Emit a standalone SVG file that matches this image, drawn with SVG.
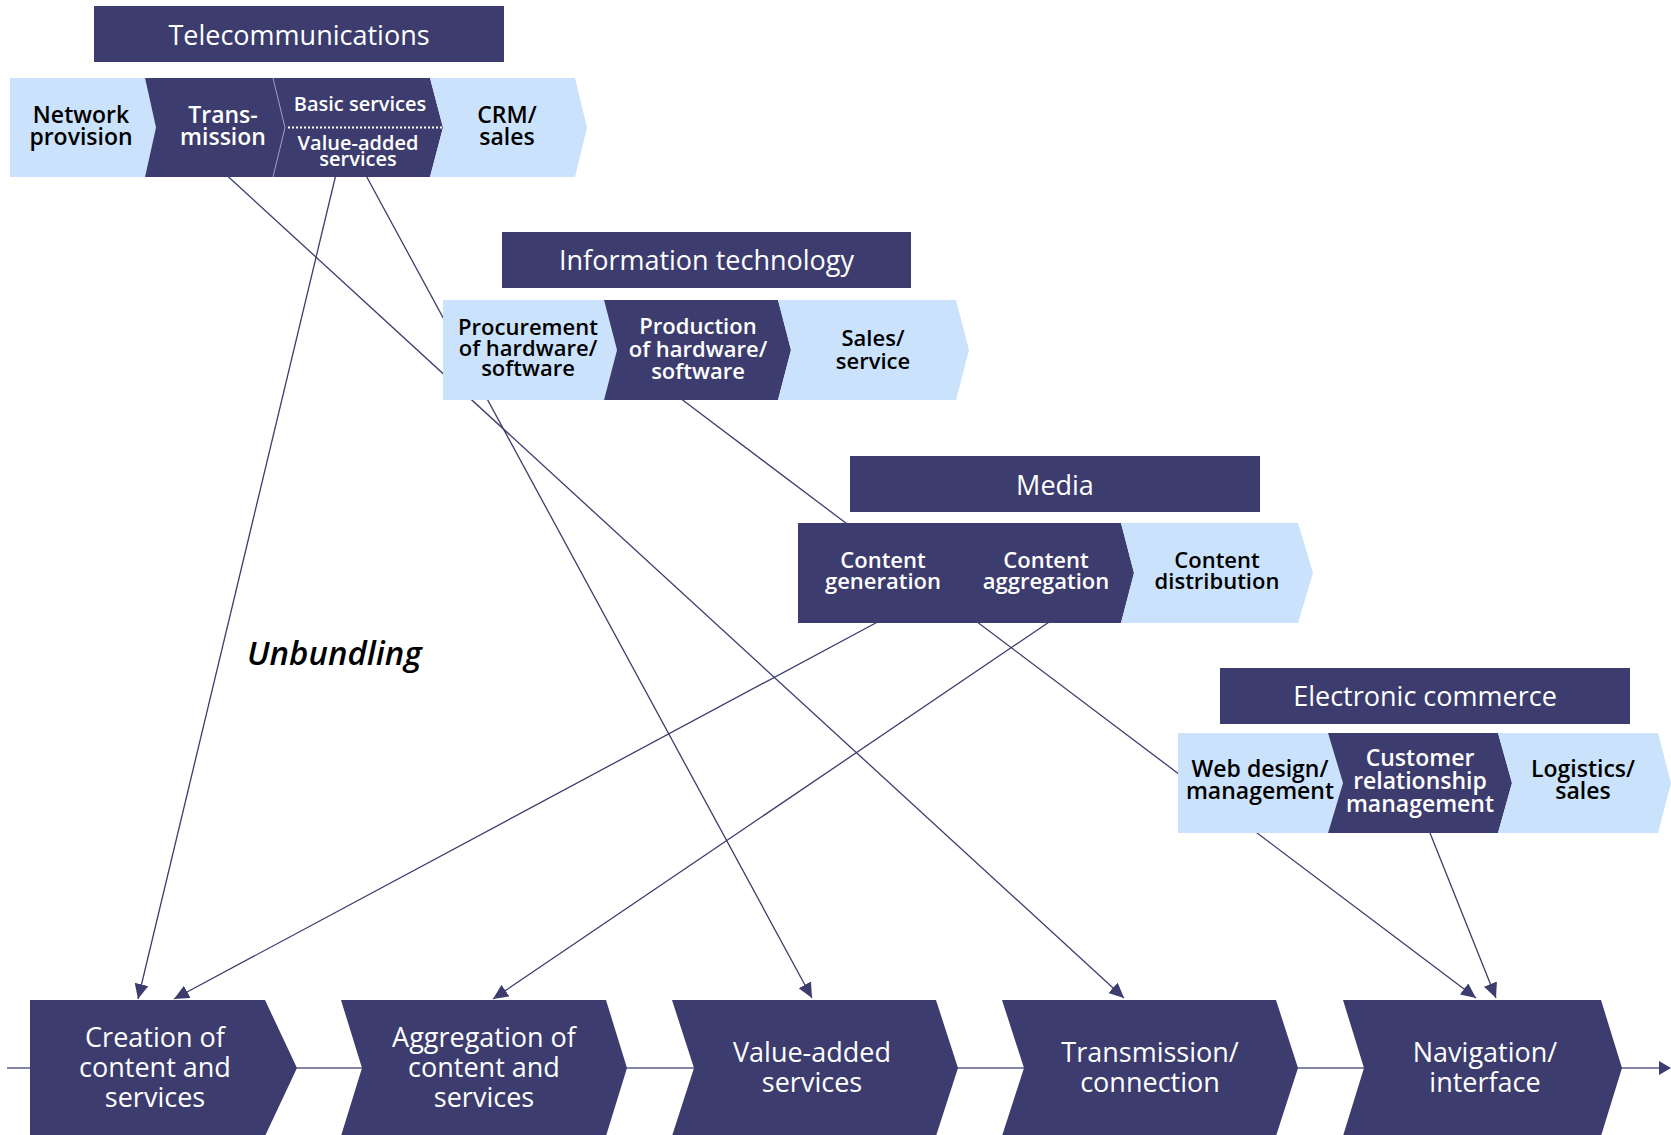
<svg xmlns="http://www.w3.org/2000/svg" width="1671" height="1135" viewBox="0 0 1671 1135">
<defs>
<style>
.dk{fill:#3d3c6e}
.lt{fill:#cae2fb}
.t{font-family:"Open Sans","Liberation Sans",sans-serif;font-weight:600;text-anchor:middle}
.w{fill:#ffffff}
.b{fill:#000000}
.hd{font-size:27px;font-weight:500}
.c23{font-size:23px}
.c22{font-size:22px}
.c20{font-size:20px}
.bt{font-size:27px;font-weight:500}
.con{stroke:#3d3c6e;stroke-width:1.3;fill:none}
</style>
<marker id="ah" markerUnits="userSpaceOnUse" markerWidth="16" markerHeight="14" refX="15" refY="7" orient="auto">
<path d="M0,0 L15,7 L0,14 Z" fill="#3d3c6e"/>
</marker>
</defs>
<rect width="1671" height="1135" fill="#ffffff"/>

<g id="connectors">
<line class="con" x1="221" y1="170" x2="1124" y2="998" marker-end="url(#ah)"/>
<line class="con" x1="337" y1="170" x2="138" y2="999" marker-end="url(#ah)"/>
<line class="con" x1="363" y1="170" x2="812" y2="998" marker-end="url(#ah)"/>
<line class="con" x1="676" y1="395" x2="1476" y2="998" marker-end="url(#ah)"/>
<line class="con" x1="1428" y1="828" x2="1496" y2="998" marker-end="url(#ah)"/>
<line class="con" x1="885" y1="618" x2="174" y2="999" marker-end="url(#ah)"/>
<line class="con" x1="1055" y1="618" x2="493" y2="999" marker-end="url(#ah)"/>
<line x1="7" y1="1068" x2="1660" y2="1068" stroke="#8585aa" stroke-width="2"/>
<polygon points="1659,1061 1671,1068 1659,1075" fill="#3d3c6e"/>
</g>

<g id="telecommunications">
<rect class="dk" x="94" y="6" width="410" height="56"/>
<text class="t w hd" x="299" y="45">Telecommunications</text>
</g>
<g id="network-provision">
<polygon class="lt" points="10,78 145,78 156,127.5 145,177 10,177"/>
<text class="t b c23" x="81" y="123">Network</text>
<text class="t b c23" x="81" y="145">provision</text>
</g>
<g id="transmission-tel">
<polygon class="dk" points="145,78 273,78 285,127.5 273,177 145,177 156,127.5"/>
<text class="t w c23" x="223" y="123">Trans-</text>
<text class="t w c23" x="223" y="145">mission</text>
</g>
<g id="services-tel">
<polygon class="dk" points="273,78 430,78 443,127.5 430,177 273,177 285,127.5"/>
<polyline points="273,78 285,127.5 273,177" fill="none" stroke="#9a9ac0" stroke-width="1"/>
<line x1="288" y1="127.5" x2="448" y2="127.5" stroke="#ffffff" stroke-width="2" stroke-dasharray="2,2"/>
<text class="t w c20" x="360" y="111">Basic services</text>
<text class="t w c20" x="358" y="150">Value-added</text>
<text class="t w c20" x="358" y="166">services</text>
</g>
<g id="crm-sales">
<polygon class="lt" points="430,78 575,78 587,127.5 575,177 430,177 443,127.5"/>
<text class="t b c23" x="507" y="123">CRM/</text>
<text class="t b c23" x="507" y="145">sales</text>
</g>

<g id="information-technology">
<rect class="dk" x="502" y="232" width="409" height="56"/>
<text class="t w hd" x="706.5" y="270">Information technology</text>
</g>
<g id="procurement">
<polygon class="lt" points="443,300 604,300 617,350 604,400 443,400"/>
<text class="t b c22" x="528" y="335">Procurement</text>
<text class="t b c22" x="528" y="356">of hardware/</text>
<text class="t b c22" x="528" y="376">software</text>
</g>
<g id="production">
<polygon class="dk" points="604,300 778,300 791,350 778,400 604,400 617,350"/>
<text class="t w c22" x="698" y="334">Production</text>
<text class="t w c22" x="698" y="357">of hardware/</text>
<text class="t w c22" x="698" y="379">software</text>
</g>
<g id="sales-service">
<polygon class="lt" points="778,300 956,300 969,350 956,400 778,400 791,350"/>
<text class="t b c22" x="873" y="346">Sales/</text>
<text class="t b c22" x="873" y="369">service</text>
</g>

<g id="media">
<rect class="dk" x="850" y="456" width="410" height="56"/>
<text class="t w hd" x="1055" y="495">Media</text>
</g>
<g id="content-generation">
<rect class="dk" x="798" y="523" width="152" height="100"/>
<text class="t w c22" x="883" y="568">Content</text>
<text class="t w c22" x="883" y="589">generation</text>
</g>
<g id="content-aggregation">
<polygon class="dk" points="949,523 1121,523 1134,573 1121,623 949,623"/>
<text class="t w c22" x="1046" y="568">Content</text>
<text class="t w c22" x="1046" y="589">aggregation</text>
</g>
<g id="content-distribution">
<polygon class="lt" points="1121,523 1298,523 1313,573 1298,623 1121,623 1134,573"/>
<text class="t b c22" x="1217" y="568">Content</text>
<text class="t b c22" x="1217" y="589">distribution</text>
</g>

<g id="electronic-commerce">
<rect class="dk" x="1220" y="668" width="410" height="56"/>
<text class="t w hd" x="1425" y="706">Electronic commerce</text>
</g>
<g id="web-design">
<polygon class="lt" points="1178,733 1328,733 1343,783 1328,833 1178,833"/>
<text class="t b c23" x="1260" y="777">Web design/</text>
<text class="t b c23" x="1260" y="799">management</text>
</g>
<g id="crm">
<polygon class="dk" points="1328,733 1498,733 1512,783 1498,833 1328,833 1343,783"/>
<text class="t w c23" x="1420" y="766">Customer</text>
<text class="t w c23" x="1420" y="789">relationship</text>
<text class="t w c23" x="1420" y="812">management</text>
</g>
<g id="logistics-sales">
<polygon class="lt" points="1498,733 1658,733 1671,783 1658,833 1498,833 1512,783"/>
<text class="t b c23" x="1583" y="777">Logistics/</text>
<text class="t b c23" x="1583" y="799">sales</text>
</g>

<g id="unbundling">
<text x="247" y="665" font-family="'Open Sans','Liberation Sans',sans-serif" font-size="33" font-weight="600" font-style="italic" fill="#000">Unbundling</text>
</g>

<g id="creation">
<polygon class="dk" points="30,1000 265,1000 297,1068 265,1136 30,1136"/>
<text class="t w bt" x="155" y="1047">Creation of</text>
<text class="t w bt" x="155" y="1077">content and</text>
<text class="t w bt" x="155" y="1107">services</text>
</g>
<g id="aggregation">
<polygon class="dk" points="341,1000 606,1000 627,1068 606,1136 341,1136 362,1068"/>
<text class="t w bt" x="484" y="1047">Aggregation of</text>
<text class="t w bt" x="484" y="1077">content and</text>
<text class="t w bt" x="484" y="1107">services</text>
</g>
<g id="value-added">
<polygon class="dk" points="672,1000 936,1000 958,1068 936,1136 672,1136 694,1068"/>
<text class="t w bt" x="812" y="1062">Value-added</text>
<text class="t w bt" x="812" y="1092">services</text>
</g>
<g id="transmission-connection">
<polygon class="dk" points="1002,1000 1276,1000 1298,1068 1276,1136 1002,1136 1024,1068"/>
<text class="t w bt" x="1150" y="1062">Transmission/</text>
<text class="t w bt" x="1150" y="1092">connection</text>
</g>
<g id="navigation">
<polygon class="dk" points="1343,1000 1601,1000 1622,1068 1601,1136 1343,1136 1364,1068"/>
<text class="t w bt" x="1485" y="1062">Navigation/</text>
<text class="t w bt" x="1485" y="1092">interface</text>
</g>
</svg>
